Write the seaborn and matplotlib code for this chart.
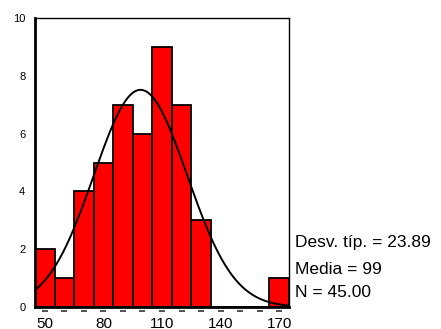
import numpy as np
import pandas as pd
import matplotlib
matplotlib.use("Agg")
import matplotlib.pyplot as plt
import matplotlib.transforms as mtransforms
import seaborn as sns

# Data
bin_centers = [50, 60, 70, 80, 90, 100, 110, 120, 130, 140, 150, 160, 170]
counts = [2, 1, 4, 5, 7, 6, 9, 7, 3, 0, 0, 0, 1]
tick_labels = [50, 80, 110, 140, 170]
y_ticks = [0, 2, 4, 6, 8, 10]
stat_sd = 23.89
stat_mean = 99
stat_n = 45

sns.set_theme(style="white")
plt.rcParams['font.family'] = ['Liberation Sans', 'DejaVu Sans']

fig = plt.figure(figsize=(4.41, 3.29), dpi=100)
ax = fig.add_axes([35/441, 22/329, (289-35)/441, (307-18)/329])

df = pd.DataFrame({"x": bin_centers, "w": counts})
binw = 10
lo = bin_centers[0] - binw/2
hi = bin_centers[-1] + binw/2
sns.histplot(data=df, x="x", weights="w", binwidth=binw, binrange=(lo, hi), ax=ax,
             color="#ff0000", alpha=1, edgecolor="black", linewidth=1.3)

# Fitted normal curve from the stated statistics
xs = np.linspace(lo, hi, 300)
ys = stat_n * binw / (stat_sd * np.sqrt(2*np.pi)) * np.exp(-0.5*((xs - stat_mean)/stat_sd)**2)
sns.lineplot(x=xs, y=ys, ax=ax, color="black", linewidth=1.4)

ax.set_xlim(lo, hi)
ax.set_ylim(0, 10)
ax.set_xticks(tick_labels)
ax.set_xticklabels([str(t) for t in tick_labels], fontsize=11)
ax.set_yticks(y_ticks)
ax.set_yticklabels([str(t) for t in y_ticks], fontsize=8)
ax.tick_params(axis='x', length=0, pad=7, colors='black')
ax.tick_params(axis='y', length=0, pad=7, colors='black')
ax.set_xlabel("")
ax.set_ylabel("")

for s in ["top", "right"]:
    ax.spines[s].set_linewidth(1.0)
    ax.spines[s].set_color("black")
for s in ["left", "bottom"]:
    ax.spines[s].set_linewidth(2.0)
    ax.spines[s].set_color("black")

# small dash marks below the axis at bin centers
trans = mtransforms.blended_transform_factory(ax.transData, ax.transAxes)
ax.plot(bin_centers, [-0.015]*len(bin_centers), linestyle='none', marker='_',
        markersize=5, markeredgewidth=1.2, color='#333333', transform=trans, clip_on=False)

fs = 12.5
fig.text(295/441, 1 - 247/329, f"Desv. típ. = {stat_sd:.2f}", fontsize=fs, va='baseline', ha='left', color='black')
fig.text(295/441, 1 - 274/329, f"Media = {stat_mean}", fontsize=fs, va='baseline', ha='left', color='black')
fig.text(295/441, 1 - 297/329, f"N = {stat_n:.2f}", fontsize=fs, va='baseline', ha='left', color='black')

fig.savefig("out.png", dpi=100)
